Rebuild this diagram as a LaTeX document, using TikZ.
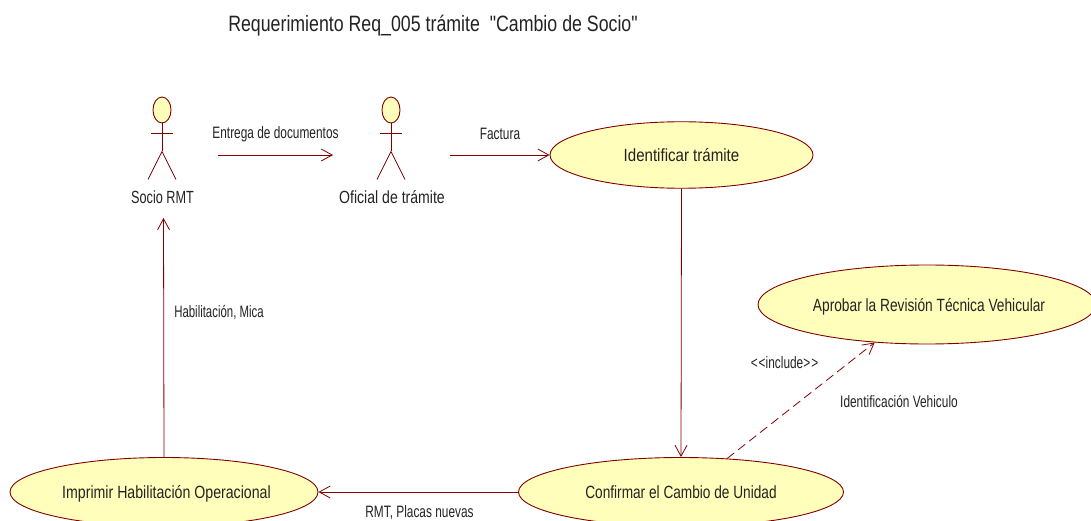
\documentclass[tikz,border=0pt]{standalone}
\usepackage{fontspec}
\newfontfamily\labelface{Liberation Sans}[FakeStretch=0.72]
\newfontfamily\textface{Liberation Sans}[FakeStretch=0.8]
\usetikzlibrary{arrows.meta,shapes.geometric}
\definecolor{umlline}{RGB}{128,0,0}
\definecolor{umlfill}{RGB}{255,255,187}
\definecolor{umltext}{RGB}{35,35,35}
\tikzset{
  x=1pt,y=-1pt,
  usecase/.style={draw=umlline,fill=umlfill,ellipse,line width=0.9pt,inner sep=0pt,text=umltext,font=\textface\fontsize{17.7}{20}\selectfont},
  label/.style={text=umltext,inner sep=0pt,font=\labelface\fontsize{16.5}{18}\selectfont},
  actorname/.style={text=umltext,inner sep=0pt,font=\textface\fontsize{17.6}{20}\selectfont},
  conn/.style={draw=umlline,line width=0.8pt,-{Straight Barb[length=11pt,width=12pt,line width=0.8pt]}},
  actorhead/.style={draw=umlline,fill=umlfill,ellipse,line width=0.9pt,minimum width=18pt,minimum height=26pt,inner sep=0pt},
  actorline/.style={draw=umlline,line width=0.8pt},
}
\newcommand{\umlactor}[2]{%
  \node[actorhead] (#1head) at (#2,110) {};
  \draw[actorline] (#1head.south) -- ++(0,28) coordinate (#1hip);
  \draw[actorline] ([xshift=-11pt,yshift=-10pt]#1head.south) -- ([xshift=11pt,yshift=-10pt]#1head.south);
  \draw[actorline] (#1hip) -- ++(-14,28);
  \draw[actorline] (#1hip) -- ++(14,28);
}
\newcommand{\casetext}[4][0pt]{\makebox[0pt]{\hspace*{#1}\smash{\raisebox{#3}{\scalebox{#2}[1]{#4}}}}}
\begin{document}
\begin{tikzpicture}
\useasboundingbox (0,0) rectangle (1091,521);
\begin{scope}
\clip (0,0) rectangle (1091,521);
\node[text=umltext,inner sep=0pt,font=\textface\fontsize{22.2}{26}\selectfont] (title) at (433,26) {Requerimiento Req\_005 trámite\ \ "Cambio de Socio"};

\umlactor{socio}{162}
\umlactor{oficial}{391}
\node[actorname] (socioname) at (162.5,197) {\scalebox{0.9}[1]{Socio RMT}};
\node[actorname] (oficialname) at (392,197) {Oficial de trámite};

\node[usecase,minimum width=263pt,minimum height=66.5pt] (identificar) at (681.5,155) {\casetext{1.065}{-6.5pt}{Identificar trámite}};
\node[usecase,minimum width=338pt,minimum height=79pt] (aprobar) at (927,304.5) {\casetext[4pt]{0.97}{-7pt}{Aprobar la Revisión Técnica Vehicular}};
\node[usecase,minimum width=325pt,minimum height=69pt] (confirmar) at (681,492) {\casetext{0.965}{-6.5pt}{Confirmar el Cambio de Unidad}};
\node[usecase,minimum width=308pt,minimum height=69pt] (imprimir) at (164,492) {\casetext[5pt]{1}{-6.5pt}{Imprimir Habilitación Operacional}};

\coordinate (a1) at (218,155);
\coordinate (a2) at (333,155);
\coordinate (a3) at (450,155);
\coordinate (a4) at (163.5,218);

\draw[conn] (a1) -- (a2);
\draw[conn] (a3) -- (identificar.west);
\draw[conn] (identificar.south) -- (confirmar.north);
\draw[conn] (confirmar.west) -- (imprimir.east);
\draw[conn] (imprimir.north) -- (a4);
\draw[conn,dash pattern=on 9pt off 5pt] (confirmar.36.6) -- (aprobar.-144);

\node[label] (l1) at (275.5,134) {Entrega de documentos};
\node[label] (l2) at (500,134) {Factura};
\node[label] (l3) at (219,312) {\scalebox{0.96}[1]{Habilitación, Mica}};
\node[label] (l4) at (784.5,363) {<\kern1pt<include>\kern1pt>};
\node[label] (l5) at (899,402) {Identificación Vehiculo};
\node[label] (l6) at (419.5,513) {RMT, Placas nuevas};
\end{scope}
\end{tikzpicture}
\end{document}
